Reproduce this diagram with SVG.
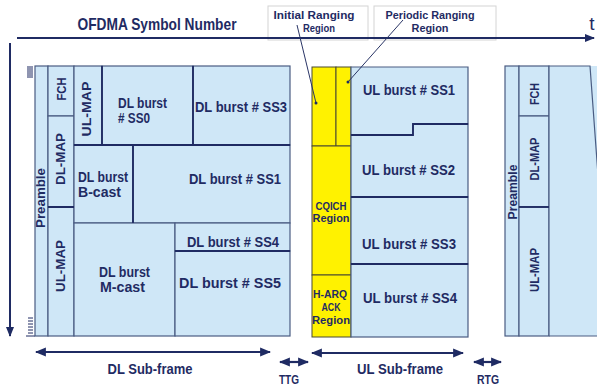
<svg xmlns="http://www.w3.org/2000/svg" width="597" height="387" viewBox="0 0 597 387">
<defs>
<marker id="ah" viewBox="0 0 10 10" refX="9" refY="5" markerWidth="5" markerHeight="5" orient="auto-start-reverse" markerUnits="strokeWidth">
<path d="M0,1 L10,5 L0,9 z" fill="#1f2b63"/>
</marker>
</defs>
<style>
.blk{fill:#cfe7f7;stroke:#4a5c82;stroke-width:1.2}
.yel{fill:#fff200;stroke:#4a4a30;stroke-width:1}
.dv{stroke:#1f2b63;stroke-width:1.8;fill:none}
.t{font-family:"Liberation Sans",Arial,sans-serif;font-weight:bold;fill:#1f2b63;font-size:15px}
.m{font-size:14px}
.s{font-size:11px}
.r{font-size:13px}
.c{text-anchor:middle}
.ax{stroke:#1f2b63;stroke-width:2;fill:none}
.ar{stroke:#1f2b63;stroke-width:2.2;fill:none}
.ptr{stroke:#2a3566;stroke-width:1;fill:none}
.lbl{fill:#fff;stroke:#d4d4d4;stroke-width:1}
.tick{stroke:#1f2b63;stroke-width:1;fill:none}
</style>

<g id="header">
<text class="t c" x="157" y="30" style="font-size:17px" textLength="159" lengthAdjust="spacingAndGlyphs">OFDMA Symbol Number</text>
<text x="592" y="30" text-anchor="middle" style="font-family:'Liberation Sans',Arial,sans-serif;font-size:19px;fill:#1f2b63">t</text>
</g>

<g id="label-initial">
<rect class="lbl" x="268" y="6" width="100" height="34"/>
<text class="t s c" x="314" y="19" textLength="81" lengthAdjust="spacingAndGlyphs">Initial Ranging</text>
<text class="t s c" x="319" y="32" textLength="32" lengthAdjust="spacingAndGlyphs">Region</text>
</g>
<g id="label-periodic">
<rect class="lbl" x="374" y="6" width="122" height="34"/>
<text class="t s c" x="430" y="19" textLength="89" lengthAdjust="spacingAndGlyphs">Periodic Ranging</text>
<text class="t s c" x="430" y="32" textLength="37" lengthAdjust="spacingAndGlyphs">Region</text>
</g>

<g id="ticks">
<path class="tick" d="M27,67h6M27,69h6M27,71h6M27,73h6M27,75h6M27,77h6M28,318h5M28,321h5M28,324h5M28,327h5M28,330h5M28,333h5M26,336h9"/>
</g>

<!-- DL sub-frame -->
<g id="dl-preamble"><rect class="blk" x="35" y="66" width="13" height="270"/>
<text class="t r" transform="translate(45,198) rotate(-90)" text-anchor="middle" textLength="60" lengthAdjust="spacingAndGlyphs">Preamble</text></g>
<g id="dl-fch"><rect class="blk" x="48" y="66" width="26" height="50"/>
<text class="t r" transform="translate(66,89) rotate(-90)" text-anchor="middle" textLength="23" lengthAdjust="spacingAndGlyphs">FCH</text></g>
<g id="dl-dlmap"><rect class="blk" x="48" y="116" width="26" height="91"/>
<text class="t r" transform="translate(65,159) rotate(-90)" text-anchor="middle" textLength="52" lengthAdjust="spacingAndGlyphs">DL-MAP</text></g>
<g id="dl-ulmap-low"><rect class="blk" x="48" y="207" width="26" height="129"/>
<text class="t r" transform="translate(65,266) rotate(-90)" text-anchor="middle" textLength="52" lengthAdjust="spacingAndGlyphs">UL-MAP</text></g>
<g id="dl-ulmap-top"><rect class="blk" x="74" y="66" width="28" height="79"/>
<text class="t r" transform="translate(91,109) rotate(-90)" text-anchor="middle" textLength="55" lengthAdjust="spacingAndGlyphs">UL-MAP</text></g>
<g id="dl-ss0"><rect class="blk" x="102" y="66" width="91" height="79"/>
<text class="t m" x="118" y="108" textLength="49" lengthAdjust="spacingAndGlyphs">DL burst</text><text class="t m" x="118" y="123" textLength="32" lengthAdjust="spacingAndGlyphs"># SS0</text></g>
<g id="dl-ss3"><rect class="blk" x="193" y="66" width="97" height="79"/>
<text class="t" x="195" y="112" textLength="92" lengthAdjust="spacingAndGlyphs">DL burst # SS3</text></g>
<g id="dl-bcast"><rect class="blk" x="74" y="145" width="59" height="78"/>
<text class="t m" x="78" y="182" textLength="50" lengthAdjust="spacingAndGlyphs">DL burst</text><text class="t m" x="78" y="197" textLength="43" lengthAdjust="spacingAndGlyphs">B-cast</text></g>
<g id="dl-ss1"><rect class="blk" x="133" y="145" width="157" height="78"/>
<text class="t" x="189" y="184" textLength="92" lengthAdjust="spacingAndGlyphs">DL burst # SS1</text></g>
<g id="dl-mcast"><rect class="blk" x="74" y="223" width="101" height="113"/>
<text class="t m" x="99" y="277" textLength="51" lengthAdjust="spacingAndGlyphs">DL burst</text><text class="t m" x="100" y="292" textLength="45" lengthAdjust="spacingAndGlyphs">M-cast</text></g>
<g id="dl-ss4"><rect class="blk" x="175" y="223" width="115" height="28"/>
<text class="t" x="187" y="247" textLength="92" lengthAdjust="spacingAndGlyphs">DL burst # SS4</text></g>
<g id="dl-ss5"><rect class="blk" x="175" y="251" width="115" height="85"/>
<text class="t" x="179" y="288" textLength="102" lengthAdjust="spacingAndGlyphs">DL burst # SS5</text></g>
<path class="dv" d="M48,207H74M102,66V145M193,66V145M133,145V223M175,251H290M74,145H290"/>

<!-- UL sub-frame -->
<g id="ul-initial"><rect class="yel" x="312" y="67" width="24" height="79"/></g>
<g id="ul-periodic"><rect class="yel" x="336" y="67" width="15" height="79"/></g>
<g id="ul-cqich"><rect class="yel" x="312" y="146" width="39" height="129"/>
<text class="t s c" x="331" y="210" textLength="31" lengthAdjust="spacingAndGlyphs">CQICH</text><text class="t s c" x="331" y="222" textLength="37" lengthAdjust="spacingAndGlyphs">Region</text></g>
<g id="ul-harq"><rect class="yel" x="312" y="275" width="39" height="62"/>
<text class="t s c" x="330" y="298" textLength="34" lengthAdjust="spacingAndGlyphs">H-ARQ</text><text class="t s c" x="331" y="311" textLength="19" lengthAdjust="spacingAndGlyphs">ACK</text><text class="t s c" x="331" y="324" textLength="38" lengthAdjust="spacingAndGlyphs">Region</text></g>
<g id="ul-ss1"><path class="blk" d="M351,67H468V124H413V135H351Z"/>
<text class="t" x="363" y="95" textLength="92" lengthAdjust="spacingAndGlyphs">UL burst # SS1</text></g>
<g id="ul-ss2"><path class="blk" d="M351,135H413V124H468V197H351Z"/>
<text class="t" x="362" y="175" textLength="93" lengthAdjust="spacingAndGlyphs">UL burst # SS2</text></g>
<g id="ul-ss3"><rect class="blk" x="351" y="197" width="117" height="67"/>
<text class="t" x="362" y="249" textLength="94" lengthAdjust="spacingAndGlyphs">UL burst # SS3</text></g>
<g id="ul-ss4"><rect class="blk" x="351" y="264" width="117" height="73"/>
<text class="t" x="363" y="303" textLength="94" lengthAdjust="spacingAndGlyphs">UL burst # SS4</text></g>
<path class="dv" d="M351,135H413V124H468M351,197H468M351,264H468"/>

<!-- next frame -->
<g id="nx-preamble"><rect class="blk" x="505" y="66" width="14" height="270"/>
<text class="t r" transform="translate(517,192) rotate(-90)" text-anchor="middle" textLength="55" lengthAdjust="spacingAndGlyphs">Preamble</text></g>
<g id="nx-fch"><rect class="blk" x="519" y="66" width="30" height="50"/>
<text class="t r" transform="translate(539,94) rotate(-90)" text-anchor="middle" textLength="22" lengthAdjust="spacingAndGlyphs">FCH</text></g>
<g id="nx-dlmap"><rect class="blk" x="519" y="116" width="30" height="91"/>
<text class="t r" transform="translate(539,159) rotate(-90)" text-anchor="middle" textLength="43" lengthAdjust="spacingAndGlyphs">DL-MAP</text></g>
<g id="nx-ulmap"><rect class="blk" x="519" y="207" width="30" height="129"/>
<text class="t r" transform="translate(539,270) rotate(-90)" text-anchor="middle" textLength="44" lengthAdjust="spacingAndGlyphs">UL-MAP</text></g>
<g id="nx-rest"><rect x="549" y="66" width="50" height="270" fill="#cfe7f7"/>
<path d="M549,336V66H590L598,175" fill="none" stroke="#4a5c82" stroke-width="1.2"/>
<path d="M549,336H598" fill="none" stroke="#4a5c82" stroke-width="1.2"/></g>
<path class="dv" d="M519,207H549"/>

<g id="connectors">
<path class="ax" d="M17,38H594" marker-end="url(#ah)"/>
<path class="ax" d="M10,43V336" marker-end="url(#ah)"/>
<path class="ptr" d="M297,25L316,103"/>
<circle cx="316" cy="103" r="1.5" fill="#1f2b63"/>
<path class="ptr" d="M403,20L348,82"/>
<circle cx="348" cy="82" r="1.5" fill="#1f2b63"/>
<path class="ar" d="M36,352H270" marker-start="url(#ah)" marker-end="url(#ah)"/>
<path class="ar" d="M312,353H463" marker-start="url(#ah)" marker-end="url(#ah)"/>
<path class="ar" d="M280,362H308" marker-start="url(#ah)" marker-end="url(#ah)"/>
<path class="ar" d="M474,362H501" marker-start="url(#ah)" marker-end="url(#ah)"/>
</g>

<g id="bottom-labels">
<text class="t c" x="150" y="374" style="font-size:15px" textLength="85" lengthAdjust="spacingAndGlyphs">DL Sub-frame</text>
<text class="t c" x="400" y="374" style="font-size:15px" textLength="86" lengthAdjust="spacingAndGlyphs">UL Sub-frame</text>
<text class="t c" x="289" y="384" style="font-size:12px" textLength="20" lengthAdjust="spacingAndGlyphs">TTG</text>
<text class="t c" x="488" y="384" style="font-size:12px" textLength="22" lengthAdjust="spacingAndGlyphs">RTG</text>
</g>
</svg>
